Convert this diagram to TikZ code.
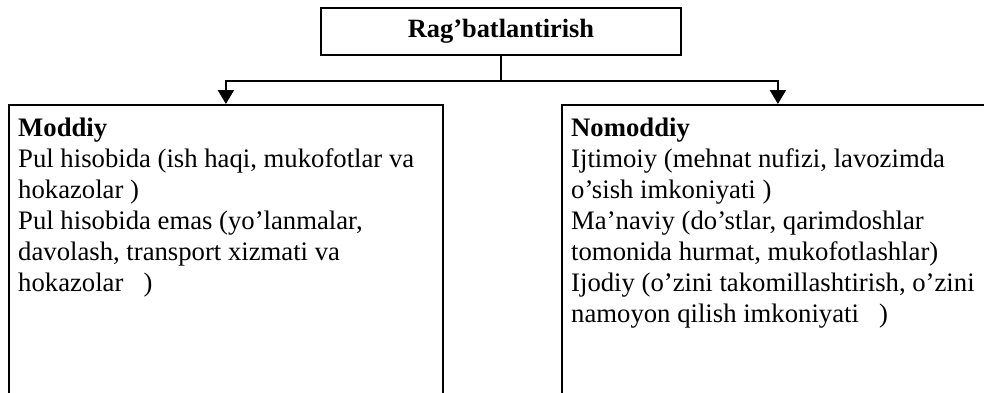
\documentclass[tikz,border=0pt]{standalone}
\usepackage{fontspec}
\setmainfont{Liberation Serif}
\usepackage{tikz}
\usetikzlibrary{arrows.meta,positioning}
\definecolor{lineBlack}{RGB}{0,0,0}

\tikzset{
    headBox/.style={draw=lineBlack, line width=1.8pt, minimum width=360pt, minimum height=47pt,
        inner sep=0pt, font=\fontsize{26.4}{31}\selectfont\bfseries},
    panel/.style={draw=lineBlack, line width=1.8pt, minimum height=330pt, inner sep=0pt},
    panelText/.style={align=left, inner xsep=10pt, inner ysep=13.5pt, font=\fontsize{26.7}{31}\selectfont},
    conn/.style={lineBlack, line width=2pt}
}

\begin{document}
\begin{tikzpicture}[x=1pt, y=1pt]
    \useasboundingbox (0,0) rectangle (984,-392);
    \clip (0,0) rectangle (984,-392);

    % top box
    \node[headBox] (ragbat) at (501,-31.5) {Rag’batlantirish};

    % two panels
    \node[panel, minimum width=434pt, anchor=north west] (moddiy) at (8,-104) {};
    \node[panel, minimum width=432pt, anchor=north west] (nomoddiy) at (561,-104) {};

    \node[panelText, anchor=north west] (moddiyText) at (moddiy.north west)
        {\textbf{Moddiy}\\
         Pul hisobida (ish haqi, mukofotlar va\\
         hokazolar )\\
         Pul hisobida emas (yo’lanmalar,\\
         davolash, transport xizmati va\\
         hokazolar\ \ \ )};
    \node[panelText, anchor=north west] (nomoddiyText) at (nomoddiy.north west)
        {\textbf{Nomoddiy}\\
         Ijtimoiy (mehnat nufizi, lavozimda\\
         o’sish imkoniyati )\\
         Ma’naviy (do’stlar, qarimdoshlar\\
         tomonida hurmat, mukofotlashlar)\\
         Ijodiy (o’zini takomillashtirish, o’zini\\
         namoyon qilish imkoniyati\ \ \ )};

    % connectors
    \draw[conn] (ragbat.south) -- ++(0,-25) coordinate (split);
    \draw[conn, -{Triangle[length=14pt, width=16pt]}] (split) -| (moddiy.north);
    \draw[conn, -{Triangle[length=14pt, width=16pt]}] (split) -| (nomoddiy.north);
\end{tikzpicture}
\end{document}
